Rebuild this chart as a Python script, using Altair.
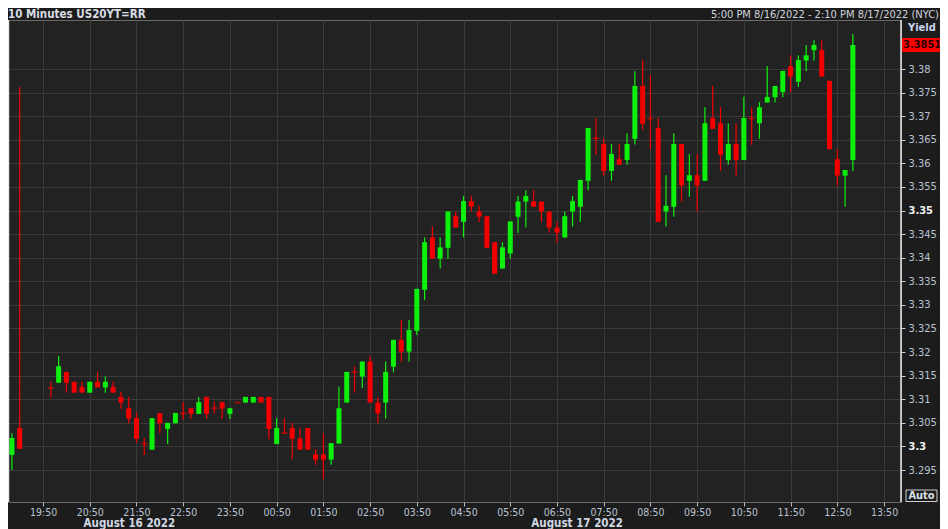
import altair as alt
import pandas as pd

# minutes after 19:00 on Aug 16 (axis clock), one bar every 10 minutes
times = [10, 20] + list(range(60, 1100, 10))

opens = [3.2982, 3.3039, 3.3124, 3.3135, 3.3158, 3.3137, 3.3126, 3.3114, 3.3137, 3.3125,
         3.3126, 3.3105, 3.3081, 3.3060, 3.3006, 3.2993, 3.3071, 3.3037, 3.3049, 3.3070,
         3.3081, 3.3069, 3.3105, 3.3081, 3.3094, 3.3069, 3.3093, 3.3093, 3.3093, 3.3105,
         3.3105, 3.3005, 3.3028, 3.3039, 3.3017, 3.3039, 3.2983, 3.2983, 3.2972, 3.3006,
         3.3093, 3.3158, 3.3148, 3.3180, 3.3093, 3.3093, 3.3169, 3.3226, 3.3201, 3.3245,
         3.3332, 3.3443, 3.3398, 3.3421, 3.3488, 3.3476, 3.3520, 3.3498, 3.3488, 3.3433,
         3.3377, 3.3409, 3.3487, 3.3519, 3.3519, 3.3519, 3.3498, 3.3464, 3.3443, 3.3498,
         3.3508, 3.3563, 3.3653, 3.3641, 3.3584, 3.3609, 3.3607, 3.3652, 3.3764, 3.3695,
         3.3675, 3.3498, 3.3508, 3.3641, 3.3563, 3.3575, 3.3563, 3.3696, 3.3685, 3.3607,
         3.3641, 3.3607, 3.3695, 3.3685, 3.3729, 3.3740, 3.3751, 3.3806, 3.3773, 3.3818,
         3.3840, 3.3840, 3.3775, 3.3609, 3.3574, 3.3607]
highs = [3.3028, 3.3762, 3.3137, 3.3192, 3.3158, 3.3137, 3.3137, 3.3137, 3.3158, 3.3148,
         3.3137, 3.3116, 3.3105, 3.3072, 3.3018, 3.3060, 3.3071, 3.3050, 3.3071, 3.3094,
         3.3081, 3.3105, 3.3105, 3.3094, 3.3094, 3.3081, 3.3093, 3.3105, 3.3105, 3.3105,
         3.3105, 3.3060, 3.3060, 3.3050, 3.3039, 3.3039, 3.2994, 3.3028, 3.3007, 3.3127,
         3.3158, 3.3170, 3.3180, 3.3192, 3.3104, 3.3180, 3.3226, 3.3268, 3.3268, 3.3334,
         3.3443, 3.3466, 3.3443, 3.3498, 3.3498, 3.3531, 3.3531, 3.3510, 3.3488, 3.3433,
         3.3433, 3.3477, 3.3531, 3.3543, 3.3543, 3.3519, 3.3498, 3.3476, 3.3498, 3.3531,
         3.3565, 3.3675, 3.3696, 3.3653, 3.3641, 3.3641, 3.3664, 3.3795, 3.3819, 3.3787,
         3.3696, 3.3575, 3.3664, 3.3641, 3.3620, 3.3620, 3.3719, 3.3764, 3.3719, 3.3685,
         3.3685, 3.3741, 3.3719, 3.3730, 3.3806, 3.3764, 3.3796, 3.3829, 3.3829, 3.3851,
         3.3861, 3.3861, 3.3775, 3.3630, 3.3586, 3.3874]
lows = [3.2950, 3.2995, 3.3103, 3.3135, 3.3114, 3.3114, 3.3114, 3.3114, 3.3125, 3.3114,
        3.3114, 3.3080, 3.3049, 3.3007, 3.2982, 3.2993, 3.3028, 3.3005, 3.3049, 3.3057,
        3.3058, 3.3069, 3.3058, 3.3069, 3.3058, 3.3058, 3.3093, 3.3093, 3.3093, 3.3093,
        3.3016, 3.3005, 3.3028, 3.2973, 3.2993, 3.2993, 3.2961, 3.2931, 3.2961, 3.3006,
        3.3093, 3.3114, 3.3124, 3.3093, 3.3049, 3.3059, 3.3157, 3.3180, 3.3180, 3.3236,
        3.3310, 3.3398, 3.3377, 3.3398, 3.3464, 3.3443, 3.3498, 3.3476, 3.3421, 3.3366,
        3.3377, 3.3398, 3.3453, 3.3464, 3.3508, 3.3476, 3.3453, 3.3432, 3.3443, 3.3466,
        3.3476, 3.3543, 3.3618, 3.3574, 3.3563, 3.3597, 3.3597, 3.3640, 3.3672, 3.3630,
        3.3476, 3.3466, 3.3487, 3.3519, 3.3529, 3.3498, 3.3563, 3.3673, 3.3584, 3.3597,
        3.3574, 3.3607, 3.3639, 3.3652, 3.3729, 3.3729, 3.3740, 3.3751, 3.3762, 3.3795,
        3.3818, 3.3784, 3.3630, 3.3553, 3.3508, 3.3584]
closes = [3.3018, 3.2995, 3.3124, 3.3170, 3.3135, 3.3114, 3.3114, 3.3137, 3.3125, 3.3137,
          3.3114, 3.3093, 3.3059, 3.3016, 3.3006, 3.3060, 3.3049, 3.3050, 3.3071, 3.3070,
          3.3069, 3.3094, 3.3069, 3.3081, 3.3080, 3.3081, 3.3093, 3.3105, 3.3105, 3.3093,
          3.3037, 3.3039, 3.3028, 3.3016, 3.2993, 3.2993, 3.2972, 3.2972, 3.3007, 3.3081,
          3.3158, 3.3158, 3.3180, 3.3093, 3.3070, 3.3158, 3.3226, 3.3201, 3.3247, 3.3334,
          3.3433, 3.3398, 3.3422, 3.3498, 3.3464, 3.3520, 3.3508, 3.3487, 3.3421, 3.3366,
          3.3422, 3.3477, 3.3519, 3.3531, 3.3508, 3.3498, 3.3464, 3.3453, 3.3488, 3.3520,
          3.3565, 3.3675, 3.3653, 3.3584, 3.3620, 3.3597, 3.3641, 3.3764, 3.3684, 3.3695,
          3.3476, 3.3510, 3.3641, 3.3553, 3.3575, 3.3553, 3.3685, 3.3673, 3.3618, 3.3641,
          3.3607, 3.3696, 3.3695, 3.3719, 3.3741, 3.3764, 3.3796, 3.3784, 3.3819, 3.3829,
          3.3851, 3.3784, 3.3630, 3.3574, 3.3586, 3.3851]

y_ticks = [3.295, 3.3, 3.305, 3.31, 3.315, 3.32, 3.325, 3.33, 3.335, 3.34,
           3.345, 3.35, 3.355, 3.36, 3.365, 3.37, 3.375, 3.38]
x_ticks = [50 + 60 * i for i in range(19)]  # 19:50 ... 13:50

last_price = [3.3851]
last_label = ["3.3851"]
date_pos = [102, 677]
date_labels = ["August 16 2022", "August 17 2022"]
title_left = "10 Minutes US20YT=RR"
title_right = "5:00 PM 8/16/2022 - 2:10 PM 8/17/2022 (NYC)"

W, H = 893, 482
TP, RP = 12, 39  # top / right padding (total 932 x 521)
GREEN, RED = "#0cf00c", "#f20000"
FONT = "DejaVu Sans Condensed, Liberation Sans Narrow, Liberation Sans, sans-serif"
LABEL_COL = "#b9c3d2"

df = pd.DataFrame({"t": times, "open": opens, "high": highs, "low": lows, "close": closes})
df["dir"] = ["up" if c > o else "down" for o, c in zip(opens, closes)]

xs = alt.Scale(domain=[5, 1151.8], nice=False, zero=False, padding=0)
ys = alt.Scale(domain=[3.28822, 3.39039], nice=False, zero=False, padding=0)
col = alt.Color("dir:N", scale=alt.Scale(domain=["up", "down"], range=[GREEN, RED]), legend=None)

bold_test = "abs(datum.value - 3.35) < 1e-6 || abs(datum.value - 3.3) < 1e-6"
x_axis = alt.Axis(values=x_ticks, tickCount=40,
                  labelExpr="timeFormat(datetime(2022, 7, 16, 19, datum.value), '%H:%M')",
                  grid=True, gridColor="#3a3a3a", domain=False, tickColor="#bbbbbb", tickSize=4,
                  labelColor=LABEL_COL, labelFont=FONT, labelFontSize=10.5, labelPadding=1,
                  labelOverlap=False, title=None)
y_axis = alt.Axis(orient="right", values=y_ticks, tickCount=40, format=".3~f", grid=True,
                  gridColor="#3a3a3a", domain=False, tickColor="#cccccc", tickSize=4, labelPadding=3,
                  labelFont=FONT, labelFontSize=11, labelOverlap=False, labelBound=False,
                  labelColor={"condition": {"test": bold_test, "value": "#f2f2f2"}, "value": LABEL_COL},
                  labelFontWeight={"condition": {"test": bold_test, "value": "bold"}, "value": "normal"},
                  title=None)

base = alt.Chart(df)
wicks = base.mark_rule(strokeWidth=1.2).encode(
    x=alt.X("t:Q", scale=xs, axis=x_axis),
    y=alt.Y("low:Q", scale=ys, axis=y_axis),
    y2="high:Q", color=col)
bodies = base.mark_bar(width=5).encode(x="t:Q", y="open:Q", y2="close:Q", color=col)
dojis = base.transform_filter("datum.open == datum.close").mark_tick(
    orient="horizontal", size=6, thickness=1.6, color=RED).encode(x="t:Q", y="open:Q")

one = pd.DataFrame({"k": [0]})
frame_l = alt.Chart(one).mark_rule(color="#e8e8e8", strokeWidth=1.5).encode(
    x=alt.value(0.5), y=alt.value(0), y2=alt.value(H))
frame_r = alt.Chart(one).mark_rule(color="#e8e8e8", strokeWidth=1.5).encode(
    x=alt.value(W), y=alt.value(0), y2=alt.value(H))

price_df = pd.DataFrame({"p": last_price, "label": last_label})
price_box = alt.Chart(price_df).transform_calculate(
    lo="datum.p - 0.0015", hi="datum.p + 0.0015").mark_rect(color="#ff0000").encode(
    x=alt.value(W + 1), x2=alt.value(W + RP), y="hi:Q", y2="lo:Q")
price_txt = alt.Chart(price_df).mark_text(align="left", baseline="middle", font=FONT,
                                          fontSize=11, fontWeight="bold", color="#2a0000").encode(
    x=alt.value(W + 2), y="p:Q", text="label:N")

def label(txt, x, y, align="left", size=11, weight="normal", color="#d4d8e0", baseline="middle"):
    return alt.Chart(pd.DataFrame({"s": [txt]})).mark_text(
        align=align, baseline=baseline, font=FONT, fontSize=size, fontWeight=weight, color=color
    ).encode(x=alt.value(x), y=alt.value(y), text="s:N")

head_l = label(title_left, 0, -2, size=11.5, weight="bold", color="#d8dce4", baseline="alphabetic")
head_r = label(title_right, W + RP - 1, -2, align="right", size=11, color="#d0d4dc", baseline="alphabetic")
yield_t = label("Yield", W + 7, 8, size=11, weight="bold", color="#c8d6ee")
auto_box = alt.Chart(one).mark_rect(fill="#1c1c1c", stroke="#d0d0d0", strokeWidth=1).encode(
    x=alt.value(W + 5), x2=alt.value(W + 36), y=alt.value(H - 12), y2=alt.value(H - 0.5))
auto_t = label("Auto", W + 20.5, H - 6, align="center", size=11, weight="bold", color="#dde2ea")

dates = alt.Chart(pd.DataFrame({"t": date_pos, "s": date_labels})).mark_text(
    align="left", baseline="middle", font=FONT, fontSize=11.5, fontWeight="bold", color="#d0d8e4").encode(
    x="t:Q", y=alt.value(H + 22), text="s:N")

chart = alt.layer(
    wicks, bodies, dojis, frame_l, frame_r, price_box, price_txt,
    head_l, head_r, yield_t, auto_box, auto_t, dates
).properties(
    width=W, height=H,
    autosize=alt.AutoSizeParams(type="none"),
    padding={"left": 0, "top": TP, "right": RP, "bottom": 27},
).configure(background="#1c1c1c").configure_view(fill="#222222", stroke="#6a6a6a", strokeWidth=1)

chart.save("out.html", embed_options={"renderer": "svg", "actions": False})
